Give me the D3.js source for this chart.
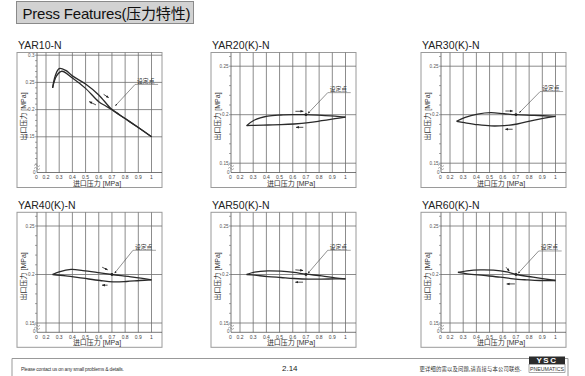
<!DOCTYPE html>
<html><head><meta charset="utf-8">
<script src="https://cdn.jsdelivr.net/npm/d3@7/dist/d3.min.js"></script>
<style>body{margin:0;background:#fff}svg{display:block}</style>
</head><body>
<script>
// ---------- data ----------
const chartTitle = "Press Features(压力特性)";
const panelNames = ["YAR10-N","YAR20(K)-N","YAR30(K)-N","YAR40(K)-N","YAR50(K)-N","YAR60(K)-N"];
const xTickValues = [0.2,0.3,0.4,0.5,0.6,0.7,0.8,0.9,1.0];
const xTickLabels = ["0.2","0.3","0.4","0.5","0.6","0.7","0.8","0.9","1"];
const yTicksYar10 = [0.15,0.2,0.25,0.3];
const yTickLabelsYar10 = ["0.15","0.2","0.25","0.3"];
const yTicksK = [0.15,0.2,0.25];
const yTickLabelsK = ["0.15","0.2","0.25"];
const xAxisTitle = "进口压力 [MPa]";
const yAxisTitle = "出口压力 [MPa]";
const setPointLabel = "设定点";
const setPoint = [0.7,0.2];

// rising inlet pressure branch / falling inlet pressure branch  [inlet, outlet] MPa
const yar10Rise = [[0.25,0.240],[0.27,0.262],[0.30,0.2755],[0.35,0.272],[0.40,0.262],[0.50,0.247],[0.60,0.227],[0.70,0.200],[0.80,0.1835],[0.90,0.167],[1.00,0.150]];
const yar10Fall = [[1.00,0.150],[0.90,0.167],[0.80,0.1835],[0.70,0.200],[0.65,0.207],[0.60,0.2146],[0.50,0.239],[0.40,0.258],[0.32,0.2705],[0.28,0.262],[0.25,0.240]];
const yar20Rise = [[0.25,0.1887],[0.31,0.1945],[0.41,0.1986],[0.51,0.1997],[0.61,0.2000],[0.70,0.2000],[0.82,0.1993],[0.92,0.1986],[1.00,0.1976]];
const yar20Fall = [[1.00,0.1976],[0.92,0.1959],[0.82,0.1938],[0.72,0.1918],[0.61,0.1904],[0.51,0.1897],[0.41,0.1894],[0.31,0.1890],[0.25,0.1887]];
const yar30Rise = [[0.25,0.1932],[0.31,0.1970],[0.41,0.2007],[0.51,0.2021],[0.61,0.2010],[0.70,0.2000],[0.84,0.1993],[1.00,0.1983]];
const yar30Fall = [[1.00,0.1983],[0.84,0.1945],[0.71,0.1904],[0.61,0.1887],[0.51,0.1884],[0.41,0.1897],[0.31,0.1918],[0.25,0.1932]];
const yar40Rise = [[0.25,0.2000],[0.30,0.2027],[0.39,0.2052],[0.48,0.2041],[0.61,0.2017],[0.70,0.2000],[0.86,0.1973],[1.00,0.1945]];
const yar40Fall = [[1.00,0.1945],[0.91,0.1938],[0.81,0.1928],[0.71,0.1924],[0.61,0.1938],[0.48,0.1962],[0.35,0.1986],[0.25,0.2000]];
const yar50Rise = [[0.25,0.2000],[0.31,0.2024],[0.41,0.2038],[0.51,0.2034],[0.61,0.2021],[0.70,0.2003],[0.82,0.1986],[0.92,0.1966],[1.00,0.1955]];
const yar50Fall = [[1.00,0.1955],[0.92,0.1955],[0.82,0.1952],[0.72,0.1952],[0.61,0.1959],[0.51,0.1969],[0.41,0.1979],[0.31,0.1993],[0.25,0.2000]];
const yar60Rise = [[0.26,0.2021],[0.33,0.2038],[0.43,0.2048],[0.53,0.2045],[0.63,0.2027],[0.70,0.2000],[0.83,0.1973],[1.00,0.1938]];
const yar60Fall = [[1.00,0.1938],[0.88,0.1938],[0.78,0.1945],[0.68,0.1955],[0.58,0.1973],[0.455,0.1990],[0.33,0.2007],[0.26,0.2021]];

// direction arrows [x1,y1,x2,y2] (arrow tip at x2,y2) and set-point label position
const yar10Arrows = [[0.637,0.228,0.675,0.222],[0.579,0.2086,0.528,0.2146]];
const yar20Arrows = [[0.62,0.2035,0.68,0.2035],[0.68,0.187,0.625,0.187]];
const yar30Arrows = [[0.62,0.2038,0.675,0.2038],[0.675,0.185,0.62,0.185]];
const yar40Arrows = [[0.626,0.2075,0.667,0.2048],[0.667,0.189,0.626,0.189]];
const yar50Arrows = [[0.62,0.2048,0.678,0.2041],[0.678,0.1921,0.62,0.1921]];
const yar60Arrows = [[0.625,0.2075,0.65,0.2034],[0.692,0.1903,0.63,0.1903]];
const labelPos = [[0.883,0.249],[0.873,0.2243],[0.891,0.2254],[0.867,0.2265],[0.873,0.2265],[0.88,0.2258]];
const leaderTip = [[0.726,0.207],[0.716,0.2014],[0.726,0.2021],[0.72,0.2013],[0.716,0.2013],[0.717,0.2013]];

const footerLeft = "Please contact us on any small problems & details.";
const pageNumber = "2.14";
const footerCn = "更详细的需以及问题,请直接与本公司联络.";

// ---------- drawing ----------
const LAT = "'Liberation Sans', Arial, sans-serif";
const CJK = "'Liberation Sans','Noto Sans CJK SC', sans-serif";
const svg = d3.select("body").append("svg").attr("width",585).attr("height",376);
const defs = svg.append("defs");
defs.append("marker").attr("id","ah").attr("viewBox","0 0 10 10").attr("refX",9).attr("refY",5)
  .attr("markerWidth",4).attr("markerHeight",4).attr("orient","auto-start-reverse")
  .append("path").attr("d","M0,1L10,5L0,9z").attr("fill","#222");

// title box
svg.append("rect").attr("x",16.5).attr("y",1.5).attr("width",177).attr("height",22)
  .attr("fill","#d2d2d2").attr("stroke","#8a8a8a").attr("stroke-width",1);
svg.append("text").attr("x",22.5).attr("y",18.5).attr("font-family",CJK).attr("font-size",15)
  .attr("fill","#111").attr("textLength",168).attr("lengthAdjust","spacing").text(chartTitle);

const panels = [
  {name:panelNames[0], rise:yar10Rise, fall:yar10Fall, arrows:yar10Arrows, yTicks:yTicksYar10, yLabels:yTickLabelsYar10, yDom:[0.15,0.3], yR:[84.3,2.7], minor:[0.1,0.3], dot:false},
  {name:panelNames[1], rise:yar20Rise, fall:yar20Fall, arrows:yar20Arrows, yTicks:yTicksK, yLabels:yTickLabelsK, yDom:[0.15,0.25], yR:[110.7,13.7], minor:[0.15,0.26], dot:true},
  {name:panelNames[2], rise:yar30Rise, fall:yar30Fall, arrows:yar30Arrows, yTicks:yTicksK, yLabels:yTickLabelsK, yDom:[0.15,0.25], yR:[110.7,13.7], minor:[0.15,0.26], dot:true},
  {name:panelNames[3], rise:yar40Rise, fall:yar40Fall, arrows:yar40Arrows, yTicks:yTicksK, yLabels:yTickLabelsK, yDom:[0.15,0.25], yR:[110.7,13.7], minor:[0.15,0.26], dot:true},
  {name:panelNames[4], rise:yar50Rise, fall:yar50Fall, arrows:yar50Arrows, yTicks:yTicksK, yLabels:yTickLabelsK, yDom:[0.15,0.25], yR:[110.7,13.7], minor:[0.15,0.26], dot:true},
  {name:panelNames[5], rise:yar60Rise, fall:yar60Fall, arrows:yar60Arrows, yTicks:yTicksK, yLabels:yTickLabelsK, yDom:[0.15,0.25], yR:[110.7,13.7], minor:[0.15,0.26], dot:true}
];
const colX = [17,211,421], rowY = [52.5,212.3];
const FW = 145, FH = 135;

panels.forEach((p,i)=>{
  const fx = colX[i%3], fy = rowY[Math.floor(i/3)];
  const g = svg.append("g");
  const x = d3.scaleLinear().domain([0.2,1.0]).range([fx+29,fx+134.5]);
  const y = d3.scaleLinear().domain(p.yDom).range([fy+p.yR[0], fy+p.yR[1]]);
  const ax = fx+20, ay = fy+120;

  g.append("text").attr("x",fx+1).attr("y",fy-3.5).attr("font-family",LAT).attr("font-size",10.5)
    .attr("fill","#222").text(p.name);
  g.append("rect").attr("x",fx).attr("y",fy).attr("width",FW).attr("height",FH)
    .attr("fill","none").attr("stroke","#9a9a9a").attr("stroke-width",1);

  // vertical grid
  g.selectAll(".vg").data(xTickValues).join("line")
    .attr("x1",d=>x(d)).attr("x2",d=>x(d)).attr("y1",fy).attr("y2",ay)
    .attr("stroke","#6e6e6e").attr("stroke-width",0.8);
  // horizontal grid
  g.selectAll(".hg").data(p.yTicks).join("line")
    .attr("x1",ax).attr("x2",fx+FW).attr("y1",d=>y(d)).attr("y2",d=>y(d))
    .attr("stroke","#6e6e6e").attr("stroke-width",0.8);
  // axes
  g.append("line").attr("x1",ax).attr("x2",ax).attr("y1",fy).attr("y2",ay).attr("stroke","#555").attr("stroke-width",0.8);
  g.append("line").attr("x1",ax).attr("x2",fx+FW).attr("y1",ay).attr("y2",ay).attr("stroke","#555").attr("stroke-width",0.8);
  // minor ticks
  const minors = d3.range(Math.round(p.minor[0]*100), Math.round(p.minor[1]*100)+1).map(v=>v/100);
  g.selectAll(".mt").data(minors.filter(v=>y(v)>=fy && y(v)<=ay-8)).join("line")
    .attr("x1",ax-2).attr("x2",ax).attr("y1",d=>y(d)).attr("y2",d=>y(d))
    .attr("stroke","#666").attr("stroke-width",0.6);
  // break symbol
  [0,3].forEach(o=>{
    g.append("path").attr("d",`M${ax-3},${ay-7+o} q1.5,-2 3,0 t3,0`).attr("fill","none")
      .attr("stroke","#777").attr("stroke-width",0.6);
  });
  // tick labels
  g.selectAll(".yl").data(p.yTicks).join("text")
    .attr("x",ax-2.5).attr("y",d=>y(d)+1.6).attr("text-anchor","end").attr("font-family",LAT)
    .attr("font-size",4.6).attr("fill","#555").text((d,j)=>p.yLabels[j]);
  g.append("text").attr("x",ax-1.5).attr("y",ay+1).attr("text-anchor","end").attr("font-family",LAT)
    .attr("font-size",4.6).attr("fill","#555").text("0");
  g.selectAll(".xl").data(xTickValues).join("text")
    .attr("x",d=>x(d)).attr("y",ay+6.3).attr("text-anchor","middle").attr("font-family",LAT)
    .attr("font-size",5).attr("fill","#444").text((d,j)=>xTickLabels[j]);
  g.append("text").attr("x",ax-0.5).attr("y",ay+6.3).attr("text-anchor","middle").attr("font-family",LAT)
    .attr("font-size",5).attr("fill","#444").text("0");
  // axis titles
  g.append("text").attr("x",fx+80).attr("y",fy+133).attr("text-anchor","middle").attr("font-family",CJK)
    .attr("font-size",7).attr("fill","#333").text(xAxisTitle);
  g.append("text").attr("transform",`translate(${fx+9},${fy+64}) rotate(-90)`).attr("text-anchor","middle")
    .attr("font-family",CJK).attr("font-size",7).attr("fill","#333").text(yAxisTitle);

  // curves
  const line = d3.line().x(d=>x(d[0])).y(d=>y(d[1])).curve(d3.curveCatmullRom.alpha(0.5));
  [p.rise,p.fall].forEach(s=>{
    g.append("path").attr("d",line(s)).attr("fill","none").attr("stroke","#2a2a2a")
      .attr("stroke-width",1.3).attr("stroke-linejoin","round");
  });
  // direction arrows
  g.selectAll(".ar").data(p.arrows).join("line")
    .attr("x1",d=>x(d[0])).attr("y1",d=>y(d[1])).attr("x2",d=>x(d[2])).attr("y2",d=>y(d[3]))
    .attr("stroke","#222").attr("stroke-width",0.8).attr("marker-end","url(#ah)");
  // set point
  if(p.dot){
    g.append("circle").attr("cx",x(setPoint[0])).attr("cy",y(setPoint[1])).attr("r",1.4).attr("fill","#222");
  }
  const lp = labelPos[i], lt = leaderTip[i];
  const lx = x(lp[0]), ly = y(lp[1]);
  g.append("text").attr("x",lx+1).attr("y",ly).attr("font-family","'Noto Sans CJK SC', sans-serif")
    .attr("font-size",5.8).attr("fill","#333").text(setPointLabel);
  g.append("line").attr("x1",lx-1).attr("x2",lx+22).attr("y1",ly+1.5).attr("y2",ly+1.5)
    .attr("stroke","#666").attr("stroke-width",0.6);
  g.append("line").attr("x1",lx-1).attr("y1",ly+1.5).attr("x2",x(lt[0])).attr("y2",y(lt[1]))
    .attr("stroke","#444").attr("stroke-width",0.6).attr("marker-end","url(#ah)");
});

// footer
svg.append("line").attr("x1",12).attr("x2",568).attr("y1",358.5).attr("y2",358.5).attr("stroke","#999").attr("stroke-width",1);
svg.append("line").attr("x1",12).attr("x2",12).attr("y1",358.5).attr("y2",376).attr("stroke","#999").attr("stroke-width",1);
svg.append("line").attr("x1",568).attr("x2",568).attr("y1",358.5).attr("y2",376).attr("stroke","#999").attr("stroke-width",1);
svg.append("text").attr("x",21).attr("y",370.5).attr("font-family",LAT).attr("font-size",5)
  .attr("fill","#333").attr("textLength",103).text(footerLeft);
svg.append("text").attr("x",282).attr("y",371).attr("font-family",LAT).attr("font-size",8)
  .attr("fill","#222").text(pageNumber);
svg.append("text").attr("x",419.5).attr("y",371).attr("font-family","'Noto Sans CJK SC', sans-serif").attr("font-size",5.3)
  .attr("fill","#333").attr("textLength",102).text(footerCn);
svg.append("rect").attr("x",529).attr("y",356.5).attr("width",36).attr("height",7.5).attr("fill","#2b2b2b");
svg.append("text").attr("x",547).attr("y",363.3).attr("text-anchor","middle").attr("font-family",LAT)
  .attr("font-weight","bold").attr("font-size",8).attr("fill","#fff").attr("letter-spacing",1.5).text("YSC");
svg.append("rect").attr("x",529).attr("y",364.5).attr("width",36).attr("height",8).attr("fill","#fff").attr("stroke","#555").attr("stroke-width",0.5);
svg.append("text").attr("x",547).attr("y",371).attr("text-anchor","middle").attr("font-family",LAT)
  .attr("font-size",5.2).attr("fill","#333").attr("textLength",34).text("PNEUMATICS");
</script>
</body></html>
